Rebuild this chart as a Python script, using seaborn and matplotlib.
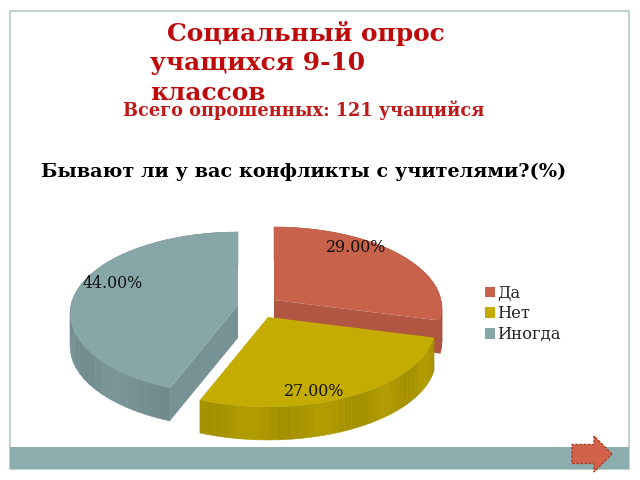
import matplotlib
matplotlib.use("Agg")
import matplotlib.pyplot as plt
import numpy as np
import seaborn as sns
from matplotlib.patches import FancyArrow, Rectangle

categories = ["Да", "Нет", "Иногда"]
shares = [29.0, 27.0, 44.0]
share_labels = ["29.00%", "27.00%", "44.00%"]
colors = ["#C8624A", "#C4AC00", "#87A6A8"]

sns.set_theme(style="white")
plt.rcParams["font.family"] = ["DejaVu Serif"]

# pixel canvas, y goes down like in the slide
fig = plt.figure(figsize=(6.4, 4.8), dpi=100)
ax = fig.add_axes([0, 0, 1, 1])
ax.set_xlim(0, 640)
ax.set_ylim(480, 0)
ax.axis("off")

# slide frame and bottom band
ax.add_patch(Rectangle((10, 11), 619, 458, facecolor="white", edgecolor="#B5C8C8", lw=1.2))
ax.add_patch(Rectangle((10, 447), 619, 22, facecolor="#8CAEAE", edgecolor="none"))
ax.add_patch(FancyArrow(572, 454, 40, 0, width=19, head_width=36, head_length=18,
                        length_includes_head=True, facecolor="#D2634A",
                        edgecolor="#A8402E", lw=1, ls=(0, (2, 1))))

ax.text(167, 33, "Социальный опрос", color="#BE0A0A", fontsize=17.9, fontweight="bold", va="center")
ax.text(150, 63, "учащихся 9-10", color="#BE0A0A", fontsize=17.9, fontweight="bold", va="center")
ax.text(150, 93, "классов", color="#BE0A0A", fontsize=17.9, fontweight="bold", va="center")
ax.text(304, 110, "Всего опрошенных: 121 учащийся", color="#BE1A1A", fontsize=12.8,
        fontweight="bold", ha="center", va="center")
ax.text(41, 172, "Бывают ли у вас конфликты с учителями?(%)", color="black", fontsize=13.9,
        fontweight="bold", va="center")

# fake 3d: each slice is moved out, k gives the perspective
RX, RY, K, DEPTH = 167, 80.6, 0.104, 33
apexes = [(274, 300), (268, 317), (238, 305)]
label_pos = [(356, 247), (314, 392), (113, 284)]
draw_order = [0, 2, 1]


def project(apex, theta, dz=0):
    v = np.cos(theta)
    s = 1 / (1 + K * v)
    return apex[0] + RX * np.sin(theta) * s, apex[1] - RY * v * s + dz


ends = np.cumsum(shares) / np.sum(shares) * 2 * np.pi
starts = np.r_[0, ends[:-1]]
# the edge of each slice that looks at the viewer, None if it looks away
front_cut = [ends[0], None, starts[2]]

handles = {}
for i in draw_order:
    apex = apexes[i]
    base = np.array(matplotlib.colors.to_rgb(colors[i]))
    th = np.linspace(starts[i], ends[i], 41)

    # outer wall in strips, so it gets the slight bands of the original
    for n, (t0, t1) in enumerate(zip(th[:-1], th[1:])):
        x0, y0 = project(apex, t0)
        x1, y1 = project(apex, t1)
        shade = 0.84 + 0.06 * np.sin(n / 3) ** 2
        ax.fill([x0, x1, x1, x0], [y0, y1, y1 + DEPTH, y0 + DEPTH],
                color=base * shade, lw=0.4)

    # cut face at the front edge of the slice
    if front_cut[i] is not None:
        ex, ey = project(apex, front_cut[i])
        ax.fill([apex[0], ex, ex, apex[0]],
                [apex[1], ey, ey + DEPTH, apex[1] + DEPTH],
                color=base * 0.88, lw=0)

    # top surface
    xs, ys = project(apex, th)
    handles[i] = ax.fill(np.r_[apex[0], xs], np.r_[apex[1], ys], color=colors[i], lw=0)[0]

for lab, (x, y) in zip(share_labels, label_pos):
    ax.text(x, y, lab, color="#111111", fontsize=11.4, ha="center", va="center", zorder=5)

ax.legend([handles[i] for i in range(3)], categories, loc="upper left",
          bbox_to_anchor=(470, 270), bbox_transform=ax.transData, frameon=False,
          fontsize=11.8, handlelength=0.65, handleheight=0.65, handletextpad=0.1,
          labelspacing=0.22, labelcolor="#222222")

fig.savefig("out.png", dpi=100)
